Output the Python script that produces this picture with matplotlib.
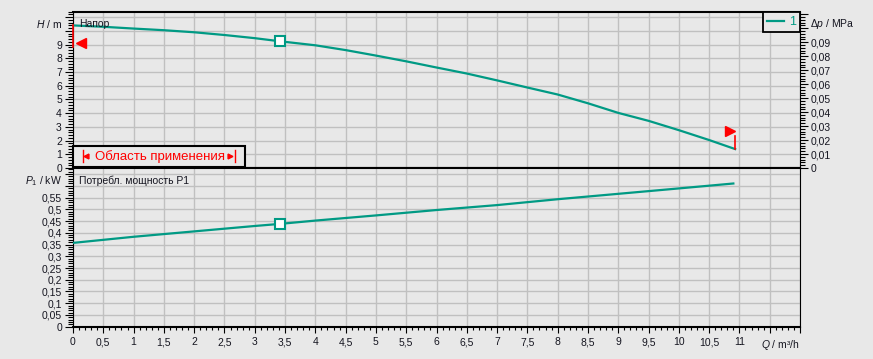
import matplotlib
matplotlib.use('Agg')
import matplotlib.pyplot as plt
import matplotlib.ticker as mtick
from matplotlib.patches import Rectangle

plt.rcParams['font.family'] = ['Liberation Sans', 'DejaVu Sans']
plt.rcParams['mathtext.fontset'] = 'custom'
plt.rcParams['mathtext.rm'] = 'Liberation Sans'
plt.rcParams['mathtext.it'] = 'Liberation Sans:italic'

# Kennlinie Förderhöhe (Q in m³/h, H in m)
q_head = [0, 0.5, 1.0, 1.5, 2.0, 2.5, 3.0, 3.42, 4.0, 4.5, 5.0, 5.5, 6.0,
          6.5, 7.0, 7.5, 8.0, 8.5, 9.0, 9.5, 10.0, 10.5, 10.93]
head = [10.4, 10.3, 10.17, 10.05, 9.9, 9.7, 9.47, 9.24, 8.95, 8.6, 8.2, 7.78,
        7.33, 6.89, 6.39, 5.87, 5.36, 4.72, 4.02, 3.44, 2.76, 2.04, 1.38]

# Leistungsaufnahme P1 (kW)
q_power = [0, 1, 2, 3, 3.42, 4, 5, 6, 7, 8, 9, 10, 10.9]
power = [0.357, 0.383, 0.406, 0.429, 0.438, 0.452, 0.474, 0.497, 0.518,
         0.543, 0.566, 0.589, 0.61]

# Betriebspunkt
op_q, op_h, op_p = 3.42, 9.24, 0.438

h_max, p_max, q_max = 11.4, 0.676, 12
bg = '#e8e8e8'
teal = '#009a84'
grid_c = '#c0c0c0'
txt_c = '#151520'


def comma(fmt, limit):
    def f(v, pos):
        if v > limit + 1e-9:
            return ''
        return (fmt % v).replace('.', ',')
    return mtick.FuncFormatter(f)


fig = plt.figure(figsize=(8.73, 3.59), dpi=100, facecolor=bg)
ax1 = fig.add_axes([73 / 873, 1 - 168 / 359, 727 / 873, 156.3 / 359])
ax2 = fig.add_axes([73 / 873, 1 - 326.7 / 359, 727 / 873, 158.7 / 359], sharex=ax1)
ax1r = ax1.twinx()

for ax in (ax1, ax2):
    ax.set_facecolor(bg)
    ax.set_xlim(0, q_max)
    ax.xaxis.set_major_locator(mtick.MultipleLocator(0.5))
    ax.xaxis.set_minor_locator(mtick.MultipleLocator(0.1))
    ax.grid(True, which='major', color=grid_c, lw=1.0)
    ax.set_axisbelow(True)
    for s in ('top', 'bottom'):
        ax.spines[s].set_linewidth(1.5)
    for s in ('left', 'right'):
        ax.spines[s].set_linewidth(0.8)
    ax.tick_params(axis='y', which='major', direction='out', length=6, width=0.8,
                   labelsize=7.5, labelcolor=txt_c, pad=2)
    ax.tick_params(axis='y', which='minor', direction='out', length=3.5, width=0.8)

# oberes Diagramm: Förderhöhe
ax1.plot(q_head, head, color=teal, lw=1.6, label='1', zorder=3)
ax1.plot(op_q, op_h, 's', ms=6.5, mfc='white', mec=teal, mew=1.5, zorder=4)
ax1.set_ylim(0, h_max)
ax1.yaxis.set_major_locator(mtick.MultipleLocator(1))
ax1.yaxis.set_minor_locator(mtick.MultipleLocator(0.2))
ax1.yaxis.set_major_formatter(comma('%g', 9))
ax1.tick_params(axis='x', which='both', bottom=False, labelbottom=False)

ax1r.set_ylim(0, h_max * 0.00981)
ax1r.yaxis.set_major_locator(mtick.MultipleLocator(0.01))
ax1r.yaxis.set_minor_locator(mtick.MultipleLocator(0.002))
ax1r.yaxis.set_major_formatter(comma('%g', 0.09))
ax1r.tick_params(axis='y', which='major', direction='out', length=6, width=0.8,
                 labelsize=7.5, labelcolor=txt_c, pad=2)
ax1r.tick_params(axis='y', which='minor', direction='out', length=3.5, width=0.8)
for s in ax1r.spines.values():
    s.set_visible(False)

# Einsatzgrenzen (rote Marker)
ax1.plot([q_head[0], q_head[0]], [head[0], head[0] - 1.6], color='red', lw=1.2,
         zorder=5, clip_on=False)
ax1.plot(q_head[0] + 0.13, head[0] - 1.3, '<', color='red', ms=7, zorder=5,
         clip_on=False)
ax1.plot([q_head[-1], q_head[-1]], [head[-1], head[-1] + 0.95], color='red',
         lw=1.2, zorder=5)
ax1.plot(q_head[-1] - 0.09, head[-1] + 1.32, '>', color='red', ms=7, zorder=5)

# Kasten "Область применения"
ax1.add_patch(Rectangle((0, 0.008), 0.2366, 0.132, transform=ax1.transAxes,
                        facecolor=bg, edgecolor='black', lw=1.5, zorder=6,
                        clip_on=False))
for xb in (0.0133, 0.2228):
    ax1.plot([xb, xb], [0.038, 0.115], color='red', lw=1.0,
             transform=ax1.transAxes, zorder=7)
ax1.plot(0.0185, 0.077, '<', color='red', ms=3.5, transform=ax1.transAxes, zorder=7)
ax1.plot(0.2165, 0.077, '>', color='red', ms=3.5, transform=ax1.transAxes, zorder=7)
ax1.text(0.030, 0.072, 'Область применения', color='red', fontsize=9.5,
         transform=ax1.transAxes, va='center', ha='left', zorder=7)

ax1.text(0.008, 0.921, 'Напор', fontsize=7.5, color=txt_c,
         transform=ax1.transAxes, va='center', ha='left', zorder=6)
ax1.text(-0.015, 0.921, r'$H$ / m', fontsize=7.5, color=txt_c,
         transform=ax1.transAxes, va='center', ha='right')
ax1.text(1.014, 0.921, r'$\Delta p$ / MPa', fontsize=7.5, color=txt_c,
         transform=ax1.transAxes, va='center', ha='left')

leg = ax1.legend(loc='upper right', bbox_to_anchor=(1.0, 1.0), borderaxespad=0,
                 fontsize=9, handlelength=1.3, handletextpad=0.4, borderpad=0.35,
                 fancybox=False, facecolor=bg, edgecolor='black', framealpha=1)
leg.get_frame().set_linewidth(1.3)
for t in leg.get_texts():
    t.set_color(teal)
leg.set_zorder(8)

# unteres Diagramm: Leistungsaufnahme
ax2.plot(q_power, power, color=teal, lw=1.6, zorder=3)
ax2.plot(op_q, op_p, 's', ms=6.5, mfc='white', mec=teal, mew=1.5, zorder=4)
ax2.set_ylim(0, p_max)
ax2.yaxis.set_major_locator(mtick.MultipleLocator(0.05))
ax2.yaxis.set_minor_locator(mtick.MultipleLocator(0.01))
ax2.yaxis.set_major_formatter(comma('%g', 0.55))
ax2.xaxis.set_major_formatter(comma('%g', 11))
ax2.tick_params(axis='x', which='major', direction='out', length=4.5, width=0.8,
                labelsize=7.5, labelcolor=txt_c, pad=3)
ax2.tick_params(axis='x', which='minor', direction='out', length=2.5, width=0.8)

ax2.text(0.008, 0.918, 'Потребл. мощность P1', fontsize=7.5, color=txt_c,
         transform=ax2.transAxes, va='center', ha='left')
ax2.text(-0.015, 0.918, r'$P_{\mathrm{1}}$ / kW', fontsize=7.5, color=txt_c,
         transform=ax2.transAxes, va='center', ha='right')
ax2.text(1.0, -0.115, r'$Q$ / m³/h', fontsize=7.5, color=txt_c,
         transform=ax2.transAxes, va='center', ha='right')

fig.savefig('out.png', dpi=100, facecolor=bg)
